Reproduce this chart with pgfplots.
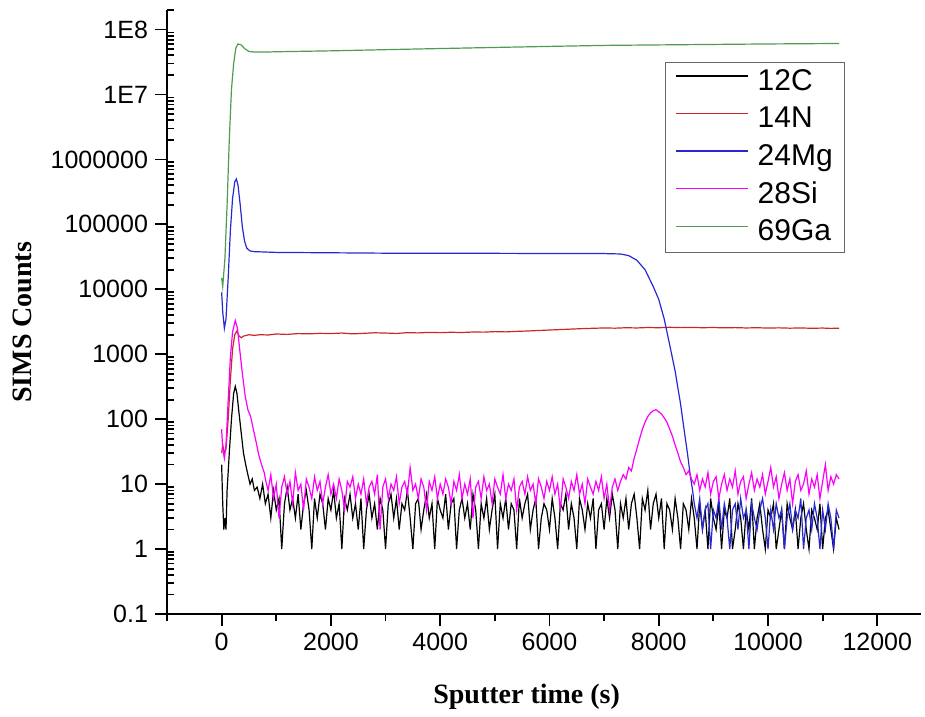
\documentclass[border=0pt]{standalone}
\usepackage{pgfplots}
\pgfplotsset{compat=1.18}
\usepackage{fontspec}
\setmainfont{Liberation Sans}
\newfontfamily\labelfont{Liberation Serif}
\definecolor{cC}{RGB}{0,0,0}
\definecolor{cN}{RGB}{200,40,40}
\definecolor{cMg}{RGB}{40,40,210}
\definecolor{cSi}{RGB}{250,0,250}
\definecolor{cGa}{RGB}{80,155,80}
\begin{document}
\begin{tikzpicture}
\begin{axis}[
  name=ax,
  scale only axis,
  width=377pt, height=302pt,
  ymode=log, log basis y=10,
  xmin=-1000, xmax=12800,
  ymin=0.1, ymax=2e8,
  axis lines=left,
  axis line style={-, line width=0.9pt},
  scaled x ticks=false,
  xtick={0,2000,4000,6000,8000,10000,12000},
  xticklabels={0,2000,4000,6000,8000,10000,12000},
  minor xtick={-1000,1000,3000,5000,7000,9000,11000},
  ytick={0.1,1,10,100,1000,10000,100000,1000000,10000000,100000000},
  yticklabels={0.1,1,10,100,1000,10000,100000,1000000,1E7,1E8},
  minor ytick={0.2,0.3,0.4,0.5,0.6,0.7,0.8,0.9,2,3,4,5,6,7,8,9,20,30,40,50,60,70,80,90,
    200,300,400,500,600,700,800,900,2000,3000,4000,5000,6000,7000,8000,9000,
    20000,30000,40000,50000,60000,70000,80000,90000,200000,300000,400000,500000,600000,700000,800000,900000,
    2000000,3000000,4000000,5000000,6000000,7000000,8000000,9000000,
    20000000,30000000,40000000,50000000,60000000,70000000,80000000,90000000,200000000},
  tick align=outside,
  major tick length=6pt,
  minor tick length=3.5pt,
  minor y tick style={xshift=3.5pt},
  tick style={line width=0.9pt, black},
  ticklabel style={font=\fontsize{12.5}{14}\selectfont},
  /pgf/number format/assume math mode=true,
  xlabel={\labelfont\bfseries\fontsize{14}{16}\selectfont Sputter time (s)},
  ylabel={\labelfont\bfseries\fontsize{14}{16}\selectfont SIMS Counts},
  x label style={at={(axis description cs:0.477,-0.137)},anchor=center},
  y label style={at={(axis description cs:-0.192,0.483)},anchor=center},
  legend cell align=left,
  legend image code/.code={\draw[#1,line width=0.7pt] (0pt,0.33em) -- (36pt,0.33em);},
  legend style={at={(0.66,0.914)}, anchor=north west, draw=black!60, line width=0.7pt,
    font=\fontsize{15}{17}\selectfont, inner xsep=5pt, inner ysep=2pt, row sep=3pt,
    nodes={inner sep=1pt, text height=10.8pt, text depth=3pt},
    /tikz/every odd column/.append style={column sep=3.5pt}},
  every axis plot/.append style={line width=0.6pt},
]
% 12C
\addplot[cC] coordinates {
(0,20)(20,5)(40,2)(60,3)(80,2)(100,8)(140,30)(180,100)(220,250)(250,320)(280,250)(320,120)(360,60)(400,30)(440,20)(480,14)(520,10)(560,12)(600,8)(650,9)(700,6)(750,10)
(800,5)(850,7)(900,3)(950,8)(1000,4)(1050,6)(1100,1)(1150,5)(1200,9)(1250,4)(1300,6)(1350,3)(1400,7)(1450,2)(1500,5)(1550,8)(1600,4)(1650,1)(1700,6)(1750,3)(1800,7)(1850,5)(1900,2)(1950,6)
(2000,4)(2050,8)(2100,3)(2150,5)(2200,1)(2250,6)(2300,4)(2350,7)(2400,3)(2450,5)(2500,2)(2550,6)(2600,1)(2650,4)(2700,7)(2750,3)(2800,5)(2850,2)(2900,6)(2950,4)
(3000,1)(3050,5)(3100,7)(3150,3)(3200,6)(3250,2)(3300,5)(3350,4)(3400,8)(3450,3)(3500,1)(3550,5)(3600,6)(3650,2)(3700,4)(3750,7)(3800,3)(3850,5)(3900,1)(3950,6)
(4000,4)(4050,3)(4100,7)(4150,2)(4200,5)(4250,6)(4300,1)(4350,4)(4400,6)(4450,3)(4500,5)(4550,2)(4600,7)(4650,4)(4700,1)(4750,5)(4800,3)(4850,6)(4900,2)(4950,4)
(5000,7)(5050,1)(5100,5)(5150,3)(5200,6)(5250,2)(5300,5)(5350,4)(5400,1)(5450,6)(5500,3)(5550,5)(5600,7)(5650,2)(5700,4)(5750,6)(5800,1)(5850,3)(5900,5)(5950,4)
(6000,2)(6050,6)(6100,3)(6150,1)(6200,5)(6250,4)(6300,7)(6350,2)(6400,5)(6450,3)(6500,1)(6550,6)(6600,4)(6650,2)(6700,5)(6750,3)(6800,6)(6850,1)(6900,4)(6950,5)
(7000,2)(7050,6)(7100,3)(7150,7)(7200,4)(7250,1)(7300,5)(7350,3)(7400,6)(7450,2)(7500,5)(7550,7)(7600,3)(7650,1)(7700,6)(7750,4)(7800,8)(7850,2)(7900,5)(7950,7)
(8000,3)(8050,6)(8100,1)(8150,5)(8200,4)(8250,2)(8300,6)(8350,3)(8400,1)(8450,5)(8500,4)(8550,2)(8600,6)(8650,3)(8700,1)(8750,5)(8800,2)(8850,4)(8900,1)(8950,6)
(9000,3)(9050,2)(9100,5)(9150,1)(9200,4)(9250,3)(9300,6)(9350,1)(9400,2)(9450,5)(9500,3)(9550,1)(9600,4)(9650,2)(9700,6)(9750,1)(9800,3)(9850,5)(9900,2)(9950,1)
(10000,4)(10050,3)(10100,5)(10150,1)(10200,2)(10250,4)(10300,1)(10350,5)(10400,3)(10450,2)(10500,4)(10550,1)(10600,3)(10650,5)(10700,2)(10750,1)(10800,4)(10850,3)(10900,2)(10950,5)
(11000,1)(11050,3)(11100,4)(11150,2)(11200,1)(11250,3)(11300,2)
};
\addlegendentry{12C}
% 14N
\addplot[cN] coordinates {
(0,30)(20,40)(50,30)(80,35)(120,100)(160,400)(200,1200)(240,2000)(280,2300)(320,1900)(360,1800)(400,1900)(500,2000)(600,1950)(700,2000)(850,1980)(1000,2050)
(1200,2020)(1400,2080)(1600,2060)(1800,2100)(2000,2080)(2200,2120)(2400,2060)(2600,2100)(2800,2140)(3000,2120)(3200,2090)(3400,2150)(3600,2130)(3800,2170)
(4000,2150)(4200,2180)(4400,2160)(4600,2200)(4800,2190)(5000,2230)(5200,2210)(5400,2250)(5600,2280)(5800,2320)(6000,2360)(6200,2400)(6400,2440)(6600,2480)
(6800,2510)(7000,2540)(7200,2520)(7400,2560)(7600,2540)(7800,2580)(8000,2560)(8200,2600)(8400,2570)(8600,2590)(8800,2560)(9000,2580)(9200,2550)(9400,2570)
(9600,2540)(9800,2560)(10000,2530)(10200,2550)(10400,2520)(10600,2540)(10800,2510)(11000,2530)(11150,2500)(11300,2520)
};
\addlegendentry{14N}
% 24Mg
\addplot[cMg] coordinates {
(0,9000)(20,4500)(50,2500)(80,3500)(120,15000)(160,80000)(200,250000)(240,450000)(270,500000)(300,400000)(340,200000)(380,90000)(420,55000)(460,43000)(520,39000)(600,38000)
(1000,37000)(2000,36500)(3000,36000)(4000,36000)(5000,35800)(6000,35600)(7000,35500)(7300,35000)(7450,33000)(7600,28000)(7750,20000)(7900,11000)(8000,7000)(8100,3500)
(8200,1400)(8300,550)(8400,170)(8480,55)(8530,28)(8580,13)(8620,8)
(8650,5)(8700,3)(8750,6)(8800,2)(8850,4)(8900,5)(8950,1)(9000,4)(9050,3)(9100,6)(9150,2)(9200,5)(9250,3)(9300,1)(9350,4)(9400,5)(9450,2)(9500,6)(9550,3)(9600,4)(9650,1)(9700,5)(9750,3)(9800,2)(9850,4)(9900,6)(9950,3)
(10000,1)(10050,4)(10100,2)(10150,5)(10200,3)(10250,4)(10300,1)(10350,3)(10400,5)(10450,2)(10500,4)(10550,3)(10600,6)(10650,1)(10700,3)(10750,4)(10800,2)(10850,5)(10900,3)(10950,1)
(11000,4)(11050,2)(11100,5)(11150,3)(11200,1)(11250,4)(11300,3)
};
\addlegendentry{24Mg}
% 28Si
\addplot[cSi] coordinates {
(0,70)(20,35)(50,25)(80,40)(120,200)(160,900)(200,2200)(250,3300)(290,2500)(330,1200)(380,500)(430,230)(480,140)(530,110)(580,70)(630,45)(680,28)(730,20)(780,15)
(800,12)(850,8)(900,14)(950,6)(1000,10)(1050,3)(1100,9)(1150,13)(1200,7)(1250,11)(1300,5)(1350,15)(1400,8)(1450,10)(1500,4)(1550,12)(1600,9)(1650,6)(1700,13)(1750,8)(1800,11)(1850,5)(1900,9)(1950,14)
(2000,7)(2050,10)(2100,6)(2150,12)(2200,8)(2250,4)(2300,11)(2350,9)(2400,13)(2450,6)(2500,10)(2550,7)(2600,12)(2650,5)(2700,9)(2750,11)(2800,7)(2850,14)(2900,2)(2950,9)
(3000,12)(3050,6)(3100,10)(3150,8)(3200,13)(3250,5)(3300,9)(3350,11)(3400,7)(3450,18)(3500,8)(3550,10)(3600,6)(3650,12)(3700,9)(3750,4)(3800,11)(3850,8)(3900,13)(3950,6)
(4000,10)(4050,7)(4100,12)(4150,9)(4200,5)(4250,11)(4300,8)(4350,14)(4400,6)(4450,10)(4500,7)(4550,12)(4600,3)(4650,9)(4700,11)(4750,6)(4800,13)(4850,8)(4900,10)(4950,5)
(5000,12)(5050,9)(5100,7)(5150,14)(5200,6)(5250,10)(5300,8)(5350,12)(5400,4)(5450,9)(5500,11)(5550,7)(5600,13)(5650,8)(5700,10)(5750,5)(5800,12)(5850,9)(5900,6)(5950,11)
(6000,8)(6050,13)(6100,7)(6150,10)(6200,4)(6250,12)(6300,9)(6350,6)(6400,11)(6450,8)(6500,14)(6550,7)(6600,10)(6650,5)(6700,12)(6750,9)(6800,7)(6850,11)(6900,8)(6950,13)
(7000,6)(7050,10)(7100,4)(7150,9)(7200,12)(7250,8)(7300,11)(7350,14)(7400,12)(7450,18)(7500,16)(7550,25)(7600,35)(7650,50)(7700,70)(7750,90)(7800,110)(7850,125)(7900,135)(7950,140)
(8000,130)(8050,120)(8100,105)(8150,90)(8200,70)(8250,55)(8300,40)(8350,30)(8400,22)(8450,18)(8500,14)(8550,16)(8600,12)(8650,10)(8700,14)(8750,8)(8800,12)(8850,9)(8900,15)(8950,7)
(9000,11)(9050,13)(9100,6)(9150,10)(9200,14)(9250,8)(9300,12)(9350,9)(9400,16)(9450,7)(9500,11)(9550,13)(9600,6)(9650,10)(9700,15)(9750,8)(9800,12)(9850,9)(9900,14)(9950,7)
(10000,11)(10050,18)(10100,9)(10150,13)(10200,6)(10250,10)(10300,15)(10350,8)(10400,12)(10450,5)(10500,11)(10550,14)(10600,8)(10650,10)(10700,16)(10750,7)(10800,12)(10850,9)(10900,14)(10950,6)
(11000,11)(11050,20)(11100,8)(11150,13)(11200,10)(11250,14)(11300,12)
};
\addlegendentry{28Si}
% 69Ga
\addplot[cGa] coordinates {
(0,15000)(20,11000)(60,30000)(100,200000)(140,2000000)(180,12000000)(220,30000000)(260,52000000)(300,60000000)(360,58000000)(420,51000000)(500,46000000)(600,45000000)
(800,45000000)(1000,45500000)(2000,47000000)(3000,49000000)(4000,51000000)(5000,53000000)(6000,55000000)(7000,57000000)(8000,58000000)(9000,59000000)(10000,60000000)(11300,61000000)
};
\addlegendentry{69Ga}
\end{axis}
\path ([shift={(-83.5pt,-49.5pt)}]ax.south west) rectangle ([shift={(2pt,5pt)}]ax.north east);
\end{tikzpicture}
\end{document}
